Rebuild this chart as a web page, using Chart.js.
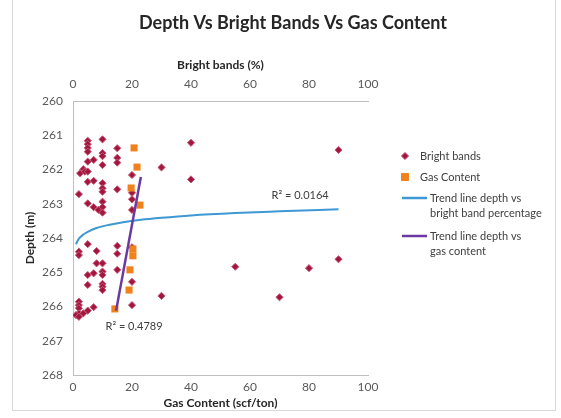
<!DOCTYPE html>
<html>
<head>
<meta charset="utf-8">
<script src="https://cdn.jsdelivr.net/npm/chart.js@4.4.0/dist/chart.umd.min.js"></script>
<style>
html, body { margin: 0; padding: 0; background: #fff; }
#wrap { position: relative; width: 561px; height: 418px; }
#frame { position: absolute; left: 12px; top: -1px; width: 544px; height: 412px;
         border: 1px solid #d9d9d9; box-sizing: border-box; pointer-events: none; }
</style>
</head>
<body>
<div id="wrap">
  <canvas id="mainChart" width="561" height="418"></canvas>
  <div id="frame"></div>
</div>
<script>
// tick labels
var percentTicks = [0, 20, 40, 60, 80, 100];
var depthTicks = [260, 261, 262, 263, 264, 265, 266, 267, 268];

// Bright bands (%) vs depth (m)
var brightPct = [5, 5, 5, 5, 10, 10, 10, 15, 15, 15, 5, 7, 10, 3.5, 2.4, 4, 5, 20, 30,
    5, 7, 10, 10, 10, 15, 2, 20, 20, 5, 7, 8.6, 10, 10, 10, 20,
    5, 2, 2, 8, 15, 15, 20, 8, 10, 7, 5, 10, 10, 5, 10, 10, 10, 15, 20,
    2, 2, 2, 2, 3.5, 5, 7, 1, 2, 20, 30,
    40, 90, 40, 55, 80, 90, 70];
var brightDepth = [261.16, 261.26, 261.37, 261.48, 261.12, 261.52, 261.61, 261.38, 261.66, 261.80, 261.77, 261.72, 261.87, 261.99, 262.11, 262.06, 262.06, 262.16, 261.94,
    262.36, 262.33, 262.40, 262.55, 262.65, 262.58, 262.72, 262.68, 262.87, 262.99, 263.10, 263.18, 262.94, 263.10, 263.26, 263.18,
    264.18, 264.40, 264.50, 264.38, 264.23, 264.46, 264.27, 264.74, 264.74, 265.03, 265.08, 264.98, 265.08, 265.37, 265.34, 265.42, 265.52, 264.93, 265.28,
    265.86, 265.96, 266.05, 266.20, 266.20, 266.12, 266.02, 266.25, 266.30, 265.96, 265.69,
    261.22, 261.43, 262.29, 264.84, 264.88, 264.62, 265.73];

// Gas content (scf/ton) vs depth (m)
var gasContent = [20.7, 21.7, 19.7, 22.7, 20.3, 20.3, 19.3, 19, 14.2];
var gasDepth = [261.37, 261.93, 262.54, 263.04, 264.32, 264.52, 264.93, 265.52, 266.07];

// trend line depth vs bright band percentage
var bandTrendPct = [1, 2, 3.5, 5, 8, 12, 17, 23, 30, 40, 55, 70, 90];
var bandTrendDepth = [264.18, 264.02, 263.90, 263.82, 263.71, 263.62, 263.54, 263.47, 263.41, 263.34, 263.27, 263.22, 263.16];

// trend line depth vs gas content
var gasTrendX = [14.6, 23];
var gasTrendDepth = [266.12, 262.22];

function toPoints(xs, ys) {
    return xs.map(function (v, i) { return { x: v, y: ys[i] }; });
}

var fontName = 'Lato, "Open Sans", sans-serif';
var tickGrey = '#595959';
var axisGrey = '#bfbfbf';

var legendItems = [
    { text: ['Bright bands'], ds: 0 },
    { text: ['Gas Content'], ds: 1 },
    { text: ['Trend line depth vs', 'bright band percentage'], ds: 2 },
    { text: ['Trend line depth vs', 'gas content'], ds: 3 }
];

// title, R² labels and the legend drawn on top
var extras = {
    id: 'extras',
    afterDraw: function (chart) {
        var ctx = chart.ctx;
        var xs = chart.scales.x, ys = chart.scales.y;
        ctx.save();
        ctx.textBaseline = 'middle';

        ctx.font = 'bold 18px ' + fontName;
        ctx.fillStyle = '#262626';
        ctx.textAlign = 'center';
        ctx.fillText('Depth Vs Bright Bands Vs Gas Content', 293, 23);

        ctx.font = '11px ' + fontName;
        ctx.fillStyle = '#404040';
        ctx.fillText('R\u00b2 = 0.0164', xs.getPixelForValue(77), ys.getPixelForValue(262.77));
        ctx.fillText('R\u00b2 = 0.4789', xs.getPixelForValue(20.7), ys.getPixelForValue(266.57));

        // legend
        var y = 156;
        ctx.textAlign = 'left';
        legendItems.forEach(function (item) {
            var ds = chart.data.datasets[item.ds];
            if (ds.showLine) {
                ctx.strokeStyle = ds.borderColor;
                ctx.lineWidth = 2.5;
                ctx.beginPath();
                ctx.moveTo(402, y);
                ctx.lineTo(427, y);
                ctx.stroke();
                ctx.fillStyle = '#404040';
                item.text.forEach(function (t, k) { ctx.fillText(t, 430, y + k * 15); });
                y += 15 * item.text.length + 8;
            } else {
                ctx.fillStyle = ds.backgroundColor;
                ctx.strokeStyle = ds.borderColor;
                Chart.helpers.drawPoint(ctx, {
                    pointStyle: ds.pointStyle, radius: ds.pointRadius,
                    rotation: 0, borderWidth: 1
                }, 405, y);
                ctx.fillStyle = '#404040';
                ctx.fillText(item.text[0], 420, y);
                y += 21;
            }
        });
        ctx.restore();
    }
};

var ctx = document.getElementById('mainChart').getContext('2d');
var chart = new Chart(ctx, {
    type: 'scatter',
    data: {
        datasets: [{
            label: 'Bright bands',
            xAxisID: 'xTop',
            data: toPoints(brightPct, brightDepth),
            pointStyle: 'rectRot',
            pointRadius: 3.6,
            backgroundColor: '#a3173f',
            borderColor: '#c45a78',
            borderWidth: 1,
            order: 3
        }, {
            label: 'Gas Content',
            xAxisID: 'x',
            data: toPoints(gasContent, gasDepth),
            pointStyle: 'rect',
            pointRadius: 5,
            backgroundColor: '#f0821e',
            borderColor: '#f0821e',
            borderWidth: 0,
            order: 2
        }, {
            label: 'Trend line depth vs bright band percentage',
            xAxisID: 'xTop',
            data: toPoints(bandTrendPct, bandTrendDepth),
            showLine: true,
            pointRadius: 0,
            borderColor: '#3d98d3',
            borderWidth: 2,
            cubicInterpolationMode: 'monotone',
            order: 1
        }, {
            label: 'Trend line depth vs gas content',
            xAxisID: 'x',
            data: toPoints(gasTrendX, gasTrendDepth),
            showLine: true,
            pointRadius: 0,
            borderColor: '#6a3aa2',
            borderWidth: 2.5,
            order: 0
        }]
    },
    options: {
        responsive: false,
        animation: false,
        layout: { padding: { left: 0, right: 193, top: 0, bottom: 0 } },
        plugins: { legend: { display: false }, tooltip: { enabled: false } },
        scales: {
            x: {
                type: 'linear', position: 'bottom', min: 0, max: 100,
                afterBuildTicks: function (s) { s.ticks = percentTicks.map(function (v) { return { value: v }; }); },
                afterFit: function (s) { s.height = 43; },
                grid: { display: false, drawTicks: false },
                border: { display: true, color: axisGrey },
                ticks: { color: tickGrey, padding: 5, font: { family: fontName, size: 12 } },
                title: { display: true, text: 'Gas Content (scf/ton)', color: '#262626',
                         font: { family: fontName, size: 12, weight: 'bold' }, padding: { top: 0, bottom: 8 } }
            },
            xTop: {
                type: 'linear', position: 'top', min: 0, max: 100,
                afterBuildTicks: function (s) { s.ticks = percentTicks.map(function (v) { return { value: v }; }); },
                afterFit: function (s) { s.height = 101; },
                grid: { display: false, drawTicks: false },
                border: { display: true, color: axisGrey },
                ticks: { color: tickGrey, padding: 10, font: { family: fontName, size: 12 } },
                title: { display: true, text: 'Bright bands (%)', color: '#262626',
                         font: { family: fontName, size: 12, weight: 'bold' }, padding: { top: 58, bottom: 0 } }
            },
            y: {
                type: 'linear', reverse: true, min: 260, max: 268,
                afterBuildTicks: function (s) { s.ticks = depthTicks.map(function (v) { return { value: v }; }); },
                afterFit: function (s) { s.width = 73; },
                grid: { display: false, drawTicks: false },
                border: { display: true, color: axisGrey },
                ticks: { color: tickGrey, padding: 10, font: { family: fontName, size: 12 } },
                title: { display: true, text: 'Depth (m)', color: '#262626',
                         font: { family: fontName, size: 12, weight: 'bold' }, padding: { top: 23, bottom: 0 } }
            }
        }
    },
    plugins: [extras]
});
</script>
</body>
</html>
